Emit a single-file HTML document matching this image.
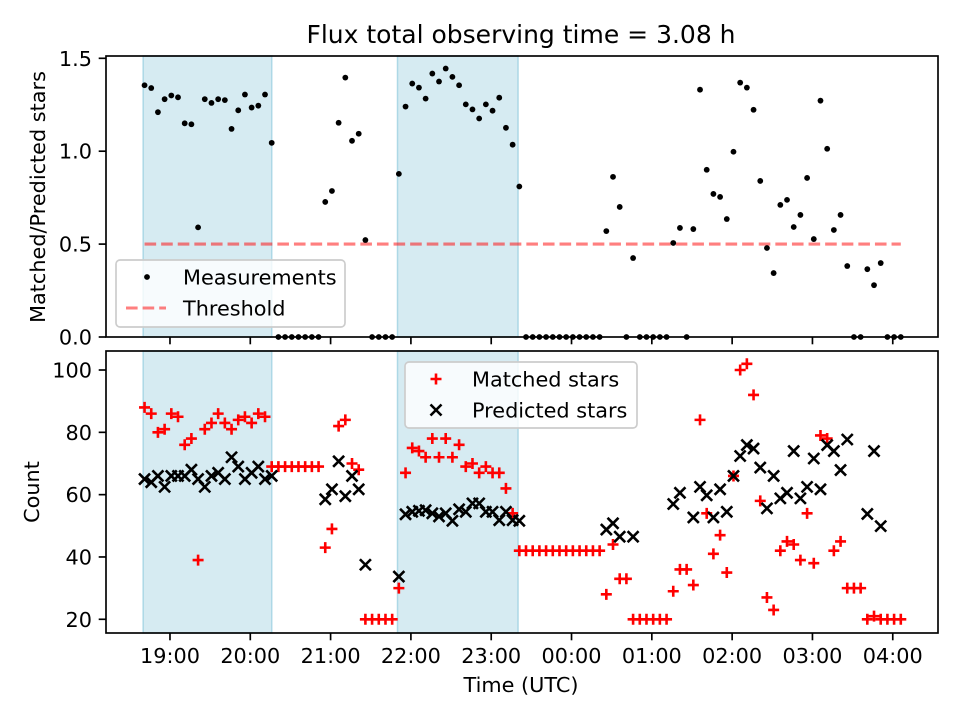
<!DOCTYPE html>
<html><head><meta charset="utf-8">
<style>
html,body{margin:0;padding:0;background:#fff;}
svg{display:block;font-family:"DejaVu Sans","Liberation Sans",sans-serif;}
</style></head>
<body>
<svg id="chart" width="960" height="720" viewBox="0 0 960 720" xmlns="http://www.w3.org/2000/svg">
<rect x="0" y="0" width="960" height="720" fill="#fff"/>
<text x="521" y="43" font-size="25" text-anchor="middle" fill="#000">Flux total observing time = 3.08 h</text>
<g id="topPanel"></g>
<g id="botPanel"></g>
<text transform="translate(45,197) rotate(-90)" font-size="20.8" text-anchor="middle" fill="#000">Matched/Predicted stars</text>
<text transform="translate(39,492) rotate(-90)" font-size="20.8" text-anchor="middle" fill="#000">Count</text>
<text x="521" y="692" font-size="20.8" text-anchor="middle" fill="#000">Time (UTC)</text>
</svg>
<script>
const times = ["18:41","18:46","18:51","18:56","19:01","19:06","19:11","19:16","19:21","19:26","19:31","19:36","19:41","19:46","19:51","19:56","20:01","20:06","20:11","20:16","20:21","20:26","20:31","20:36","20:41","20:46","20:51","20:56","21:01","21:06","21:11","21:16","21:21","21:26","21:31","21:36","21:41","21:46","21:51","21:56","22:01","22:06","22:11","22:16","22:21","22:26","22:31","22:36","22:41","22:46","22:51","22:56","23:01","23:06","23:11","23:16","23:21","23:26","23:31","23:36","23:41","23:46","23:51","23:56","00:01","00:06","00:11","00:16","00:21","00:26","00:31","00:36","00:41","00:46","00:51","00:56","01:01","01:06","01:11","01:16","01:21","01:26","01:31","01:36","01:41","01:46","01:51","01:56","02:01","02:06","02:11","02:16","02:21","02:26","02:31","02:36","02:41","02:46","02:51","02:56","03:01","03:06","03:11","03:16","03:21","03:26","03:31","03:36","03:41","03:46","03:51","03:56","04:01","04:06"];
const ratio = [1.355,1.34,1.21,1.28,1.30,1.29,1.15,1.145,0.59,1.28,1.26,1.28,1.275,1.12,1.22,1.305,1.235,1.245,1.305,1.045,
0,0,0,0,0,0,0,
0.727,0.786,1.153,1.396,1.056,1.094,0.522,
0,0,0,0,
0.878,1.24,1.364,1.342,1.283,1.418,1.375,1.445,1.40,1.355,1.252,1.225,1.176,1.252,1.218,1.288,1.126,1.035,0.81,
0,0,0,0,0,0,0,0,0,0,0,0,
0.57,0.862,0.70,0,0.425,0,0,0,0,0,0.506,0.587,0,0.581,1.331,0.90,0.77,0.754,0.635,0.997,1.369,1.342,1.223,0.84,0.479,0.344,0.711,0.738,0.592,0.657,0.856,0.527,1.272,1.013,0.576,0.657,0.382,0,0,0.365,0.279,0.398,0,0,0];
const matched = [88,86,80,81,86,85,76,78,39,81,83,86,83,81,84,85,83,86,85,69,
69,69,69,69,69,69,69,
43,49,82,84,70,68,20,
20,20,20,20,
30,67,75,74,72,78,72,78,72,76,69,70,67,69,67,67,62,54,42,
42,42,42,42,42,42,42,42,42,42,42,42,
28,44,33,33,20,20,20,20,20,20,29,36,36,31,84,54,41,47,35,66,100,102,92,58,27,23,42,45,44,39,54,38,79,78,42,45,30,30,30,20,21,20,20,20,20];
const predicted = [65,64,66,62.5,66,66,66,68,65,62.5,66,67,65,72,69,65,67,69,65,66,
null,null,null,null,null,null,null,
58.5,61.7,70.7,59.5,66,61.7,37.5,
null,null,null,null,
33.7,53.7,54.5,54.8,55,54,53,54,51.6,55.3,54.5,57.2,57.2,54.5,54.5,51.8,54.5,51.8,51.6,
null,null,null,null,null,null,null,null,null,null,null,null,
48.8,50.8,46.5,null,46.5,null,null,null,null,null,57,60.6,null,52.7,62.5,59.8,52.7,61.7,54.5,66,72.4,75.9,74.8,68.7,55.6,66,58.8,60.6,74,58.8,62.5,71.6,61.7,75.9,74,67.9,77.7,null,null,53.8,74,49.9,null,null,null];
const spanStarts = ["18:40","21:50"];
const spanEnds = ["20:16","23:20"];
const threshold = [0.5];
const xTickLabels = ["19:00","20:00","21:00","22:00","23:00","00:00","01:00","02:00","03:00","04:00"];
const ratioTicks = [0.0,0.5,1.0,1.5];
const countTicks = [20,40,60,80,100];

const NS="http://www.w3.org/2000/svg";
function toH(s){let [h,m]=s.split(":").map(Number);if(h<12)h+=24;return h+m/60;}
const L=106,R=938, HMIN=18+12.2/60, HMAX=28+33.8/60;
function X(s){return L+(toH(s)-HMIN)/(HMAX-HMIN)*(R-L);}
const TT=56,TB=337, RMIN=0,RMAX=1.5124;
function YR(v){return TB-(v-RMIN)/(RMAX-RMIN)*(TB-TT);}
const BT=351,BB=633, CMIN=15.6,CMAX=106.1;
function YC(v){return BB-(v-CMIN)/(CMAX-CMIN)*(BB-BT);}
function mk(parent,tag,attrs){const e=document.createElementNS(NS,tag);for(const k in attrs)e.setAttribute(k,attrs[k]);parent.appendChild(e);return e;}

function panel(g,t0,b0,yfn,yticks,fmt,showX,prefix){
  for(let i=0;i<spanStarts.length;i++){
    const r=mk(g,"rect",{x:X(spanStarts[i]),y:t0,width:X(spanEnds[i])-X(spanStarts[i]),height:b0-t0,fill:"#add8e6","fill-opacity":0.5,stroke:"#add8e6","stroke-width":1.5});
    
    
  }
  for(const t of xTickLabels){
    const x=X(t);
    const tk=mk(g,"line",{x1:x,x2:x,y1:b0,y2:b0+7.3,stroke:"#000","stroke-width":1.67});
    
    
    if(showX){
      const tx=mk(g,"text",{x:x,y:b0+30,"font-size":20.8,"text-anchor":"middle",fill:"#000"});
      tx.textContent=t;
      
      
    }
  }
  for(const v of yticks){
    const y=yfn(v);
    const tk=mk(g,"line",{x1:L-7.3,x2:L,y1:y,y2:y,stroke:"#000","stroke-width":1.67});
    
    
    const tx=mk(g,"text",{x:L-14,y:y+7.5,"font-size":20.8,"text-anchor":"end",fill:"#000"});
    tx.textContent=fmt(v);
    
    
  }
}
const topG=document.getElementById("topPanel"), botG=document.getElementById("botPanel");
panel(topG,TT,TB,YR,ratioTicks,v=>v.toFixed(1),false,'ratio');
panel(botG,BT,BB,YC,countTicks,v=>String(v),true,'count');

const th=mk(topG,"line",{x1:X(times[0]),x2:X(times[times.length-1]),y1:YR(threshold[0]),y2:YR(threshold[0]),stroke:"#ff0000","stroke-opacity":0.5,"stroke-width":3.1,"stroke-dasharray":"11.6 5"});


for(let i=0;i<times.length;i++){
  const c=mk(topG,"circle",{cx:X(times[i]),cy:YR(ratio[i]),r:2.9,fill:"#000"});
  
  
}
for(let i=0;i<times.length;i++){
  if(matched[i]==null)continue;
  const x=X(times[i]),y=YC(matched[i]),s=5.5;
  const p=mk(botG,"path",{d:`M${x-s} ${y}H${x+s}M${x} ${y-s}V${y+s}`,stroke:"#ff0000","stroke-width":2.6,fill:"none"});
  
  
}
for(let i=0;i<times.length;i++){
  if(predicted[i]==null)continue;
  const x=X(times[i]),y=YC(predicted[i]),s=5.5;
  const p=mk(botG,"path",{d:`M${x-s} ${y-s}L${x+s} ${y+s}M${x-s} ${y+s}L${x+s} ${y-s}`,stroke:"#000","stroke-width":2.6,fill:"none"});
  
  
}
for(const [g,t,b,n] of [[topG,TT,TB,'ratio-frame'],[botG,BT,BB,'count-frame']]){
  const f=mk(g,"rect",{x:L,y:t,width:R-L,height:b-t,fill:"none",stroke:"#000","stroke-width":1.67});
  
  
}
function legend(g,x,y,w,h,entries,name){
  const lg=mk(g,"g",{});
  
  
  mk(lg,"rect",{x:x,y:y,width:w,height:h,rx:4,fill:"#fff","fill-opacity":0.8,stroke:"#cccccc","stroke-width":1.67});
  entries.forEach((e,i)=>{
    const cy=y+17+i*31, mx=x+31;
    if(e.type==="dot")mk(lg,"circle",{cx:mx,cy:cy,r:2.9,fill:"#000"});
    if(e.type==="dash")mk(lg,"line",{x1:x+10,x2:x+50,y1:cy,y2:cy,stroke:"#ff0000","stroke-opacity":0.5,"stroke-width":3.1,"stroke-dasharray":"11.6 5"});
    if(e.type==="plus")mk(lg,"path",{d:`M${mx-5.5} ${cy}H${mx+5.5}M${mx} ${cy-5.5}V${cy+5.5}`,stroke:"#ff0000","stroke-width":2.6});
    if(e.type==="cross")mk(lg,"path",{d:`M${mx-5.5} ${cy-5.5}L${mx+5.5} ${cy+5.5}M${mx-5.5} ${cy+5.5}L${mx+5.5} ${cy-5.5}`,stroke:"#000","stroke-width":2.6});
    const t=mk(lg,"text",{x:x+67,y:cy+7.5,"font-size":20.8,fill:"#000"});
    t.textContent=e.label;
    
    
  });
}
legend(topG,116,260,229,67,[{type:"dot",label:"Measurements"},{type:"dash",label:"Threshold"}],'ratio-legend');
legend(botG,405,362,232,66,[{type:"plus",label:"Matched stars"},{type:"cross",label:"Predicted stars"}],'count-legend');
</script>
</body></html>
